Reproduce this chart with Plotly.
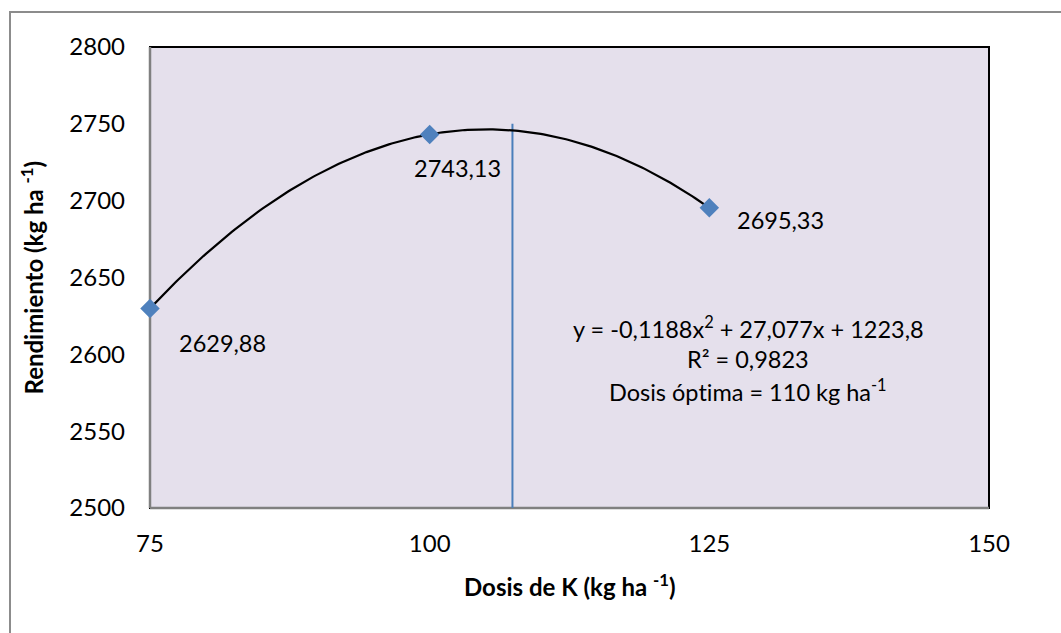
import numpy as np
import plotly.graph_objects as go

# Potassium dose (kg/ha) and yield (kg/ha)
dosis = [75, 100, 125]
rendimiento = [2629.88, 2743.13, 2695.33]
etiquetas = ["2629,88", "2743,13", "2695,33"]

# Reference line marking the optimum dose region
linea_x = 107.4
linea_y = [2500, 2750]

x_ticks = [75, 100, 125, 150]
y_ticks = [2500, 2550, 2600, 2650, 2700, 2750, 2800]

ecuacion = ["y = -0,1188x<sup>2</sup> + 27,077x + 1223,8",
            "R² = 0,9823",
            "Dosis ópt\u200cima = 110 kg ha<sup>-1</sup>"]

FONT = "Lato, Calibri, sans-serif"
W, H = 1061, 633
L, R, T, B = 150, 72, 47, 125
pw, ph = W - L - R, H - T - B


def px_x(p):
    return (p - L) / pw


def px_y(p):
    return (H - B - p) / ph


# second-order polynomial trendline through the observations
coef = np.polyfit(dosis, rendimiento, 2)
xs = np.linspace(min(dosis), max(dosis), 200)
ys = np.polyval(coef, xs)

fig = go.Figure()
fig.add_trace(go.Scatter(x=[linea_x, linea_x], y=linea_y, mode="lines",
                         line=dict(color="#4a7ebb", width=2), hoverinfo="skip"))
fig.add_trace(go.Scatter(x=xs, y=ys, mode="lines", cliponaxis=False,
                         line=dict(color="#000000", width=2.2), hoverinfo="skip"))
fig.add_trace(go.Scatter(x=dosis, y=rendimiento, mode="markers", cliponaxis=False,
                         marker=dict(symbol="diamond", size=15, color="#4f81bd",
                                     line=dict(width=0))))

annotations = []
offsets = [(27, -35), (-18, -34), (26, -12)]
for xv, yv, t, (dx, dy) in zip(dosis, rendimiento, etiquetas, offsets):
    annotations.append(dict(x=xv, y=yv, text=t, showarrow=False, xanchor="left",
                            yanchor="middle", xshift=dx, yshift=dy,
                            font=dict(family=FONT, size=23.5, color="#000")))

for i, (t, yp) in enumerate(zip(ecuacion, [327, 359, 390])):
    annotations.append(dict(xref="paper", yref="paper", x=px_x(748), y=px_y(yp),
                            text=t, showarrow=False, xanchor="center",
                            yanchor="middle",
                            font=dict(family=FONT, size=23.5, color="#000")))

annotations.append(dict(xref="paper", yref="paper", x=px_x(570), y=px_y(585),
                        text="<b>Dosis de K (kg ha <sup>-1</sup>)</b>", showarrow=False,
                        xanchor="center", yanchor="middle",
                        font=dict(family=FONT, size=24, color="#000")))
annotations.append(dict(xref="paper", yref="paper", x=px_x(31), y=0.5,
                        text="<b>Rendimiento (kg ha <sup>-1</sup>)</b>", showarrow=False,
                        textangle=-90, xanchor="center", yanchor="middle",
                        font=dict(family=FONT, size=24, color="#000")))

shapes = [
    # plot area frame
    dict(type="rect", xref="paper", yref="paper", x0=0, x1=1, y0=0, y1=1,
         line=dict(color="#000000", width=2), layer="below"),
    # axis lines
    dict(type="line", xref="paper", yref="paper", x0=0, x1=0, y0=0, y1=1,
         line=dict(color="#808080", width=2.5), layer="below"),
    dict(type="line", xref="paper", yref="paper", x0=0, x1=1, y0=0, y1=0,
         line=dict(color="#808080", width=2.5), layer="below"),
    # chart outer border
    dict(type="rect", xref="paper", yref="paper", x0=px_x(10), x1=px_x(1070),
         y0=px_y(645), y1=px_y(12), line=dict(color="#8c8c8c", width=2)),
]

fig.update_layout(
    width=W, height=H,
    margin=dict(l=L, r=R, t=T, b=B),
    paper_bgcolor="#ffffff",
    plot_bgcolor="#e5e0ec",
    showlegend=False,
    annotations=annotations,
    shapes=shapes,
    font=dict(family=FONT, size=24, color="#000"),
)
fig.update_xaxes(range=[75, 150], tickvals=x_ticks, ticktext=[str(v) for v in x_ticks],
                 showgrid=False, zeroline=False, showline=False, ticks="",
                 ticklabelstandoff=19, tickfont=dict(family=FONT, size=24))
fig.update_yaxes(range=[2500, 2800], tickvals=y_ticks, ticktext=[str(v) for v in y_ticks],
                 showgrid=False, zeroline=False, showline=False, ticks="",
                 ticklabelstandoff=24, tickfont=dict(family=FONT, size=24))

fig.write_html("out.html")
